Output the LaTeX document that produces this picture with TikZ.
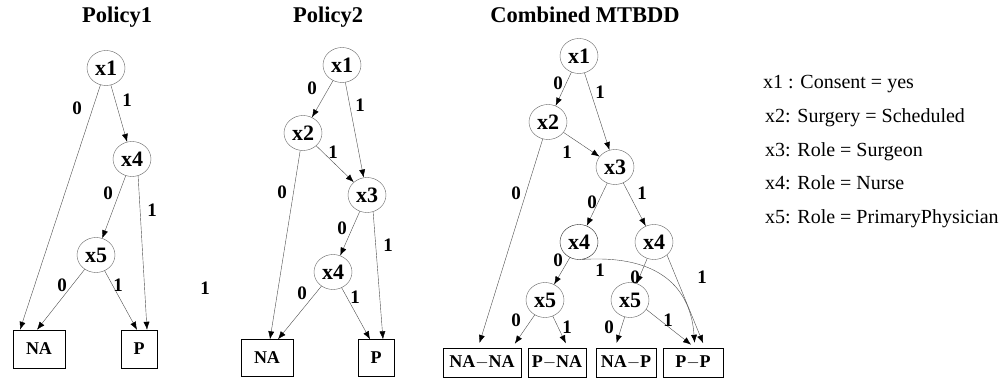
\documentclass[tikz,border=0pt]{standalone}
\usepackage{fontspec}
\setmainfont{Liberation Serif}
\usetikzlibrary{arrows.meta,shapes.geometric}

\begin{document}
\begin{tikzpicture}[x=1pt, y=-1pt,
  main/.style = {draw=black!60, ellipse, minimum width=38pt, minimum height=35pt, inner sep=0pt, font=\fontsize{22}{22}\selectfont\bfseries},
  term/.style = {draw, rectangle, inner sep=0pt, font=\fontsize{18}{18}\selectfont\bfseries},
  lbl/.style = {inner sep=0pt, font=\fontsize{19}{19}\selectfont\bfseries},
  ttl/.style = {anchor=base, inner sep=0pt, font=\fontsize{22.5}{22.5}\selectfont\bfseries},
  key/.style = {anchor=base west, inner sep=0pt, font=\fontsize{20}{20}\selectfont},
  edge/.style = {draw=black!70, thin, -{Latex[color=black, length=8pt, width=6pt]}},
  gap/.style = {shorten >=5pt}]
\useasboundingbox (0,0) rectangle (1005,387);

% Policy1
\node[ttl] (t1) at (117,23) {Policy1};
\node[main] (a1) at (106,68) {x1};
\node[main] (a4) at (132,159) {x4};
\node[main] (a5) at (96,255) {x5};
\node[term, minimum width=52pt, minimum height=38pt] (ana) at (39,349) {NA};
\node[term, minimum width=36pt, minimum height=38pt] (ap) at (139,349) {P};
\draw[edge] (a1) -- ([xshift=-19pt]ana.north);
\draw[edge] (a1) -- (a4);
\draw[edge] (a4) -- (a5);
\draw[edge] (a4.-70) -- ([xshift=8pt]ap.north);
\draw[edge] (a5) -- ([xshift=-2pt]ana.north);
\draw[edge] (a5) -- ([xshift=-2pt]ap.north);
\node[lbl] (la1) at (77,108) {0};
\node[lbl] (la2) at (127,100) {1};
\node[lbl] (la3) at (108,193) {0};
\node[lbl] (la4) at (152,210) {1};
\node[lbl] (la5) at (62,285) {0};
\node[lbl] (la6) at (118,285) {1};
\node[lbl] (la7) at (205,288) {1};

% Policy2
\node[ttl] (t2) at (328,23) {Policy2};
\node[main] (b1) at (342,65) {x1};
\node[main] (b2) at (303,133) {x2};
\node[main] (b3) at (367,195) {x3};
\node[main] (b4) at (333,272) {x4};
\node[term, minimum width=52pt, minimum height=37pt] (bna) at (267,358) {NA};
\node[term, minimum width=36pt, minimum height=37pt] (bp) at (376,358) {P};
\draw[edge] (b1) -- (b2);
\draw[edge] (b1) -- (b3);
\draw[edge] (b2) -- (b3);
\draw[edge] (b2) -- ([xshift=3pt]bna.north);
\draw[edge] (b3) -- (b4);
\draw[edge] (b3.-70) -- ([xshift=7pt]bp.north);
\draw[edge] (b4) -- ([xshift=11pt]bna.north);
\draw[edge] (b4) -- ([xshift=-6pt]bp.north);
\node[lbl] (lb1) at (312,88) {0};
\node[lbl] (lb2) at (360,105) {1};
\node[lbl] (lb3) at (333,152) {1};
\node[lbl] (lb4) at (282,192) {0};
\node[lbl] (lb5) at (342,228) {0};
\node[lbl] (lb6) at (388,245) {1};
\node[lbl] (lb7) at (302,293) {0};
\node[lbl] (lb8) at (355,297) {1};

% Combined MTBDD
\node[ttl] (t3) at (585,23) {Combined MTBDD};
\node[main] (c1) at (579,56) {x1};
\node[main] (c2) at (548,122) {x2};
\node[main] (c3) at (615,167) {x3};
\node[main, draw=black!85] (c4a) at (579,242) {x4};
\node[main] (c4b) at (654,242) {x4};
\node[main] (c5a) at (545,300) {x5};
\node[main] (c5b) at (630,300) {x5};
\node[term, minimum width=78pt, minimum height=29pt] (cnana) at (482,362.5) {NA$-$NA};
\node[term, minimum width=58pt, minimum height=29pt] (cpna) at (557,362.5) {P$-$NA};
\node[term, minimum width=60pt, minimum height=29pt] (cnap) at (626,362.5) {NA$-$P};
\node[term, minimum width=60pt, minimum height=29pt] (cpp) at (693,362.5) {P$-$P};
\draw[edge] (c1) -- (c2);
\draw[edge] (c1) -- (c3);
\draw[edge] (c2) -- (c3);
\draw[edge, gap] (c2) -- ([xshift=-4pt]cnana.north);
\draw[edge] (c3) -- (c4a);
\draw[edge] (c3) -- (c4b);
\draw[edge] (c4a) -- (c5a);
\draw[edge, gap] (c4a.-80) .. controls (650,255) and (690,280) .. ([xshift=2pt]cpp.north);
\draw[edge] (c4b) -- (c5b);
\draw[edge, gap] (c4b.-45) -- ([xshift=12pt]cpp.north);
\draw[edge, gap] (c5a) -- ([xshift=30pt]cnana.north);
\draw[edge, gap] (c5a) -- ([xshift=11pt]cpna.north);
\draw[edge, gap] (c5b) -- ([xshift=-11pt]cnap.north);
\draw[edge, gap] (c5b.-30) -- ([xshift=2pt]cpp.north);
\node[lbl] (lc1) at (558,83) {0};
\node[lbl] (lc2) at (600,92) {1};
\node[lbl] (lc3) at (567,152) {1};
\node[lbl] (lc4) at (516,193) {0};
\node[lbl] (lc5) at (592,202) {0};
\node[lbl] (lc6) at (642,193) {1};
\node[lbl] (lc7) at (558,260) {0};
\node[lbl] (lc8) at (600,270) {1};
\node[lbl] (lc9) at (635,277) {0};
\node[lbl] (lc10) at (702,277) {1};
\node[lbl] (lc11) at (516,320) {0};
\node[lbl] (lc12) at (567,327) {1};
\node[lbl] (lc13) at (609,327) {0};
\node[lbl] (lc14) at (668,320) {1};

% key
\node[key] (k1) at (763,89) {x1 : Consent = yes};
\node[key] (k2) at (765,123) {x2: Surgery = Scheduled};
\node[key] (k3) at (765,157) {x3: Role = Surgeon};
\node[key] (k4) at (765,190) {x4: Role = Nurse};
\node[key] (k5) at (765,224) {x5: Role = PrimaryPhysician};
\end{tikzpicture}
\end{document}
